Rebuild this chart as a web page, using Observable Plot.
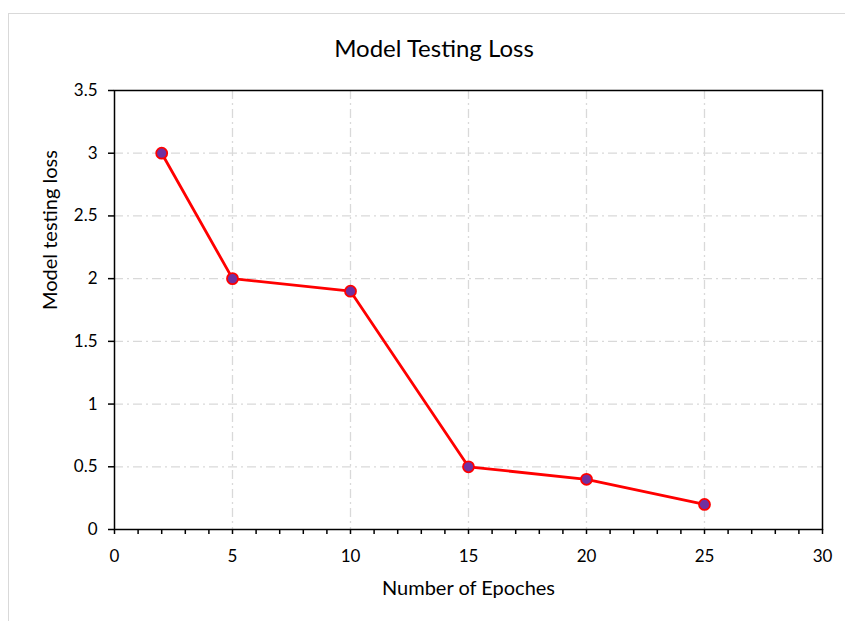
<!DOCTYPE html>
<html>
<head>
<meta charset="utf-8">
<script src="https://cdn.jsdelivr.net/npm/d3@7"></script>
<script src="https://cdn.jsdelivr.net/npm/@observablehq/plot@0.6"></script>
<style>
  html, body { margin: 0; padding: 0; background: #fff; }
  #wrap { position: relative; width: 845px; height: 621px; overflow: hidden; font-family: Lato, "Open Sans", sans-serif; }
  #border { position: absolute; left: 8px; top: 13px; width: 900px; height: 700px; border: 1.5px solid #d9d9d9; box-sizing: border-box; }
  #title { position: absolute; left: 0; width: 868px; top: 33px; text-align: center; font-size: 24px; color: #000; }
  #chart { position: absolute; left: 0; top: 0; }
</style>
</head>
<body>
<div id="wrap">
  <div id="border"></div>
  <div id="title">Model Testing Loss</div>
  <div id="chart"></div>
</div>
<script>
const epochs = [2, 5, 10, 15, 20, 25];
const losses = [3, 2, 1.9, 0.5, 0.4, 0.2];
const xTicks = [0, 5, 10, 15, 20, 25, 30];
const xMinorTicks = d3.range(0, 31, 1);
const yTicks = [0, 0.5, 1, 1.5, 2, 2.5, 3, 3.5];
const xLabel = "Number of Epoches";
const yLabel = "Model testing loss";

const data = epochs.map((e, i) => ({epoch: e, loss: losses[i]}));

const chart = Plot.plot({
  width: 845,
  height: 621,
  marginLeft: 114,
  marginRight: 23,
  marginTop: 90,
  marginBottom: 92,
  style: {fontFamily: "Lato, 'Open Sans', sans-serif", fontSize: "17px", color: "#000", background: "transparent"},
  x: {domain: [0, 30]},
  y: {domain: [0, 3.5]},
  marks: [
    Plot.ruleX(xTicks.filter(d => d > 0 && d < 30), {stroke: "#d9d9d9", strokeWidth: 1.3, strokeDasharray: "9,4,2,4"}),
    Plot.ruleY(yTicks.filter(d => d > 0 && d < 3.5), {stroke: "#d9d9d9", strokeWidth: 1.3, strokeDasharray: "9,4,2,4"}),
    Plot.frame({stroke: "#000", strokeWidth: 1.5}),
    Plot.axisX({ticks: xMinorTicks, tickSize: 5, text: null, strokeWidth: 1.5, label: null}),
    Plot.axisX({ticks: xTicks, tickSize: 0, tickPadding: 20, fontSize: 17, tickFormat: d => String(d), label: null}),
    Plot.axisY({ticks: yTicks, tickSize: 6, tickPadding: 11, strokeWidth: 1.5, fontSize: 17, tickFormat: d => String(d), label: null}),
    Plot.text([xLabel], {frameAnchor: "bottom", dy: 65, fontSize: 20}),
    Plot.text([yLabel], {frameAnchor: "left", dx: -64, rotate: -90, fontSize: 20}),
    Plot.line(data, {x: "epoch", y: "loss", stroke: "#ff0000", strokeWidth: 2.8}),
    Plot.dot(data, {x: "epoch", y: "loss", r: 5.5, fill: "#7030a0", stroke: "#ff0000", strokeWidth: 1.8})
  ]
});
document.getElementById("chart").appendChild(chart);
</script>
</body>
</html>
